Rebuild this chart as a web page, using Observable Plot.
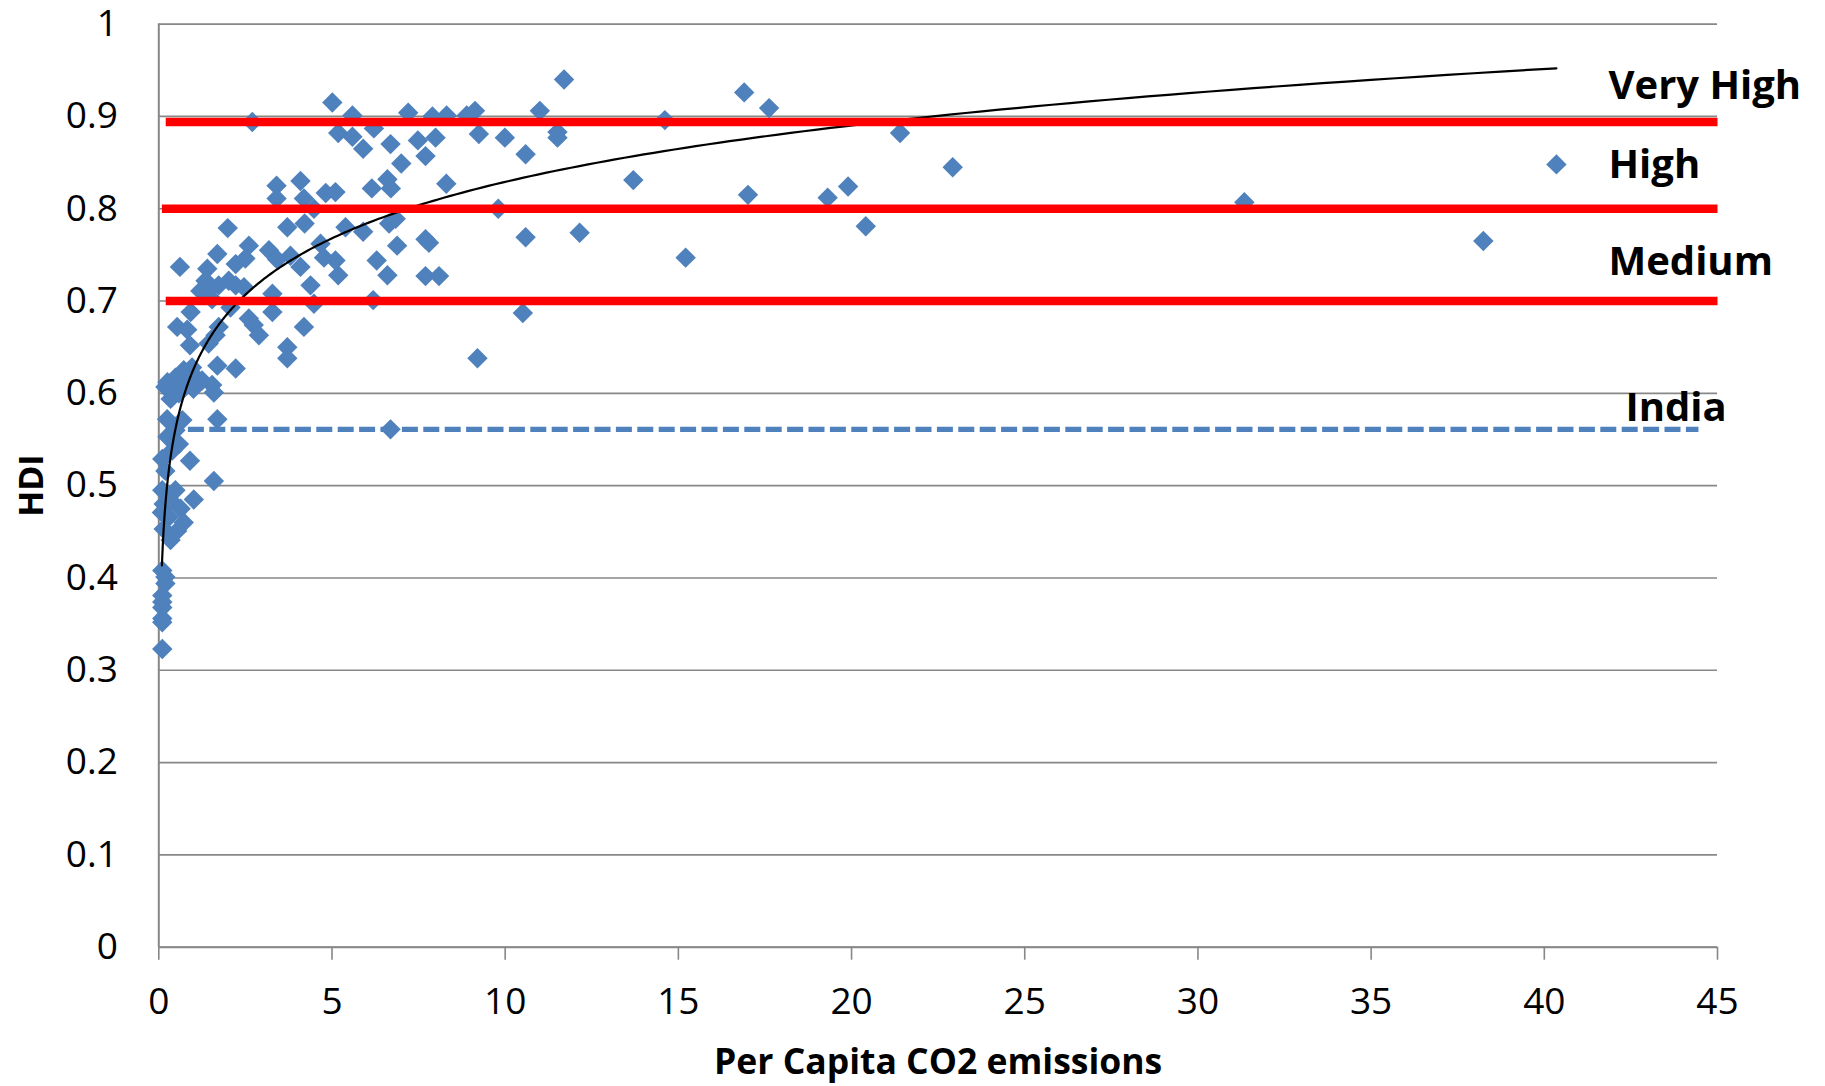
<!DOCTYPE html>
<html>
<head>
<meta charset="utf-8">
<script src="https://cdn.jsdelivr.net/npm/d3@7"></script>
<script src="https://cdn.jsdelivr.net/npm/@observablehq/plot@0.6"></script>
<style>
  html, body { margin: 0; padding: 0; background: #fff; }
  #chart svg { display: block; }
</style>
</head>
<body>
<div id="chart"></div>
<script>
// Per capita CO2 emissions (tonnes) and HDI, one entry per country
const co2 = [
  2.70, 5.01, 5.59, 5.18, 5.59, 5.90, 6.21, 6.69, 7.20, 7.90,
  8.31, 8.89, 9.13, 11.00, 7.48, 7.99, 9.24, 9.99, 11.51, 11.51,
  7.70, 7.00, 10.59, 11.70, 14.61, 16.90, 17.62, 21.40, 13.70, 17.01,
  19.31, 19.90, 22.92, 31.34, 40.35, 3.40, 4.09, 3.40, 4.19, 4.82,
  5.10, 4.48, 6.15, 6.60, 6.70, 8.30, 9.80,
  1.99, 3.71, 4.21, 5.39, 5.90, 6.65, 6.84, 2.60, 1.69, 3.18,
  3.42, 3.80, 4.67, 4.77, 5.10, 6.88, 7.70, 7.80, 10.59, 12.15,
  20.41, 38.24, 15.21, 0.61, 1.40, 2.22, 2.50, 4.09, 6.29, 6.60,
  5.18, 7.70, 8.09, 1.35, 1.44, 1.73, 2.02, 2.22, 2.46, 1.20,
  1.54, 3.28, 4.38, 4.48, 6.19,
  2.07, 0.92, 3.28, 10.51, 0.53, 0.82, 1.73, 2.60, 2.74, 2.89,
  4.19, 0.90, 1.44, 1.64, 3.71, 3.71, 9.20, 1.69, 2.22, 0.19,
  0.48, 0.72, 0.96, 0.82, 1.11, 0.39, 0.68, 1.25, 1.54, 1.59,
  0.34, 0.58, 1.00, 0.25,
  0.24, 0.48, 1.69, 0.68, 0.25, 0.58, 0.39, 0.10, 0.90, 0.19,
  1.59, 6.69,
  0.10, 0.48, 1.01, 0.14, 0.34, 0.63, 0.09, 0.29, 0.72, 0.14,
  0.53, 0.34, 0.10, 0.19, 0.19, 0.10, 0.10, 0.10, 0.10, 0.10,
  0.10
];
const hdi = [
  0.894, 0.915, 0.901, 0.882, 0.878, 0.865, 0.887, 0.870, 0.904, 0.900,
  0.901, 0.901, 0.906, 0.906, 0.874, 0.877, 0.881, 0.877, 0.883, 0.877,
  0.857, 0.849, 0.859, 0.940, 0.896, 0.926, 0.909, 0.882, 0.831, 0.815,
  0.812, 0.824, 0.845, 0.807, 0.848, 0.825, 0.830, 0.811, 0.811, 0.817,
  0.818, 0.800, 0.822, 0.832, 0.822, 0.827, 0.800,
  0.779, 0.780, 0.784, 0.780, 0.775, 0.784, 0.789, 0.760, 0.751, 0.755,
  0.745, 0.749, 0.762, 0.747, 0.744, 0.760, 0.767, 0.763, 0.769, 0.774,
  0.781, 0.765, 0.747, 0.737, 0.735, 0.740, 0.746, 0.737, 0.744, 0.728,
  0.728, 0.727, 0.727, 0.722, 0.711, 0.717, 0.722, 0.717, 0.715, 0.711,
  0.702, 0.708, 0.717, 0.697, 0.701,
  0.693, 0.688, 0.688, 0.687, 0.672, 0.669, 0.672, 0.681, 0.674, 0.663,
  0.672, 0.652, 0.654, 0.663, 0.650, 0.638, 0.638, 0.630, 0.627, 0.607,
  0.617, 0.625, 0.628, 0.617, 0.616, 0.601, 0.609, 0.614, 0.609, 0.601,
  0.594, 0.600, 0.605, 0.612,
  0.572, 0.560, 0.572, 0.571, 0.553, 0.545, 0.538, 0.529, 0.527, 0.516,
  0.505, 0.561,
  0.495, 0.495, 0.485, 0.480, 0.484, 0.475, 0.471, 0.466, 0.460, 0.453,
  0.451, 0.441, 0.408, 0.401, 0.394, 0.381, 0.374, 0.368, 0.356, 0.352,
  0.323
];

// Logarithmic trendline coefficients: HDI = slope·ln(CO2) + intercept
const trendSlope = 0.0882;
const trendIntercept = 0.626;

// HDI category thresholds (red lines) and where each line begins on the x axis
const levelNames = ["Very High", "High", "Medium"];
const levelValues = [0.894, 0.8, 0.7];
const levelStarts = [0.2, 0.09, 0.2];
const levelEnd = 45;

// India's HDI (dashed reference line) and the span it is drawn over
const indiaName = "India";
const indiaHdi = 0.561;
const indiaSpan = [0.84, 44.45];

// Axes
const xTicks = [0, 5, 10, 15, 20, 25, 30, 35, 40, 45];
const yTicks = [0, 0.1, 0.2, 0.3, 0.4, 0.5, 0.6, 0.7, 0.8, 0.9, 1];
const yTickLabels = ["0", "0.1", "0.2", "0.3", "0.4", "0.5", "0.6", "0.7", "0.8", "0.9", "1"];
const xTitle = "Per Capita CO2 emissions";
const yTitle = "HDI";

const points = co2.map((x, i) => ({x, y: hdi[i]}));

// Trendline sampled (log-spaced) across the range of the data
const [xmin, xmax] = d3.extent(co2);
const trend = d3.range(0, 301).map(i => {
  const x = xmin * Math.pow(xmax / xmin, i / 300);
  return {x, y: trendSlope * Math.log(x) + trendIntercept};
});

const levelLines = levelValues.flatMap((v, i) => [
  {level: levelNames[i], x: levelStarts[i], y: v},
  {level: levelNames[i], x: levelEnd, y: v}
]);
const indiaLine = indiaSpan.map(x => ({x, y: indiaHdi}));

const blue = "#4F81BD";
const gray = "#878787";
const labelDy = [-36, -43.5, -39];

const chart = Plot.plot({
  width: 1825,
  height: 1086,
  marginLeft: 158.3,
  marginRight: 108,
  marginTop: 23.6,
  marginBottom: 139.3,
  style: {fontFamily: "'Open Sans', sans-serif", fontSize: "37px", color: "#000", background: "#fff"},
  x: {domain: [0, 45]},
  y: {domain: [0, 1]},
  marks: [
    Plot.gridY(yTicks, {stroke: gray, strokeOpacity: 1, strokeWidth: 1.6}),
    Plot.ruleX([0], {stroke: gray, strokeWidth: 2}),
    Plot.ruleY([0], {stroke: gray, strokeWidth: 2}),
    Plot.axisX(xTicks, {tickSize: 13, tickPadding: 28, stroke: gray, strokeWidth: 1.6, fill: "#000", label: null}),
    Plot.axisY(yTicks, {tickSize: 0, tickPadding: 41, fill: "#000", label: null,
      tickFormat: d => yTickLabels[yTicks.indexOf(d)]}),
    Plot.line(indiaLine, {x: "x", y: "y", stroke: blue, strokeWidth: 5.3, strokeDasharray: "16,5.4", strokeLinecap: "butt"}),
    Plot.dot(points, {x: "x", y: "y", symbol: "diamond2", r: 9.2, fill: blue, stroke: "none"}),
    Plot.line(trend, {x: "x", y: "y", stroke: "#000", strokeWidth: 2.2}),
    Plot.line(levelLines, {x: "x", y: "y", z: "level", stroke: "#FF0000", strokeWidth: 8.5, strokeLinecap: "butt"}),
    ...levelValues.map((v, i) => Plot.text([v], {
      x: () => levelEnd, y: d => d, text: () => levelNames[i],
      textAnchor: "start", lineAnchor: "middle", dx: -109, dy: labelDy[i],
      fontSize: 40, fontWeight: "bold", fill: "#000"
    })),
    Plot.text([indiaHdi], {
      x: () => levelEnd, y: d => d, text: () => indiaName,
      textAnchor: "start", lineAnchor: "middle", dx: -92, dy: -21,
      fontSize: 40, fontWeight: "bold", fill: "#000"
    }),
    Plot.text([xTitle], {frameAnchor: "bottom", lineAnchor: "middle", textAnchor: "middle", dy: 115.7,
      fontSize: 35.5, fontWeight: "bold", fill: "#000"}),
    Plot.text([yTitle], {frameAnchor: "left", lineAnchor: "middle", textAnchor: "middle", dx: -126.6, rotate: -90,
      fontSize: 34, fontWeight: "bold", fill: "#000"})
  ]
});

document.getElementById("chart").append(chart);
</script>
</body>
</html>
